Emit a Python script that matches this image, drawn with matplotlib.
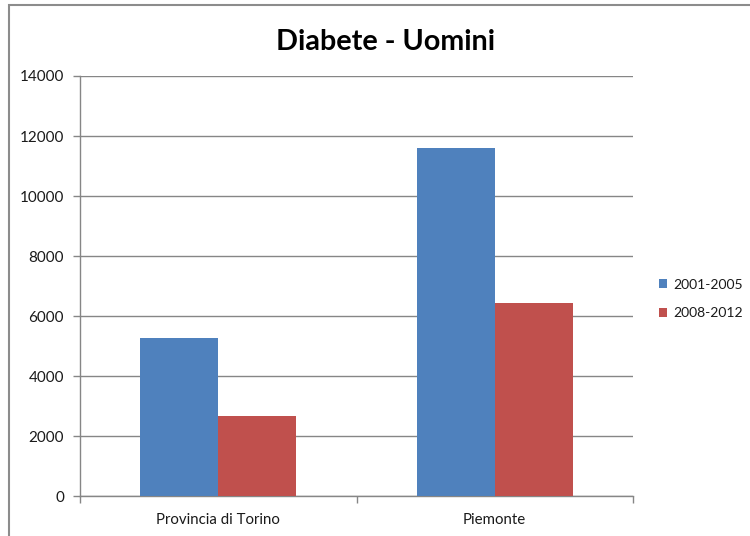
import matplotlib
matplotlib.use("Agg")
import matplotlib.pyplot as plt
import numpy as np
from matplotlib.patches import Rectangle
from matplotlib.ticker import FixedLocator

categories = ["Provincia di Torino", "Piemonte"]
series_names = ["2001-2005", "2008-2012"]
values_2001_2005 = [5260, 11600]
values_2008_2012 = [2670, 6420]
yticks = [0, 2000, 4000, 6000, 8000, 10000, 12000, 14000]

colors = ["#4F81BD", "#C0504D"]
grid_col = "#868686"
text_col = "#1a1a1a"

plt.rcParams['font.family'] = ['Lato', 'DejaVu Sans']

W, H = 750, 536
fig = plt.figure(figsize=(W / 100, H / 100), dpi=100)
fig.patch.set_facecolor("white")

# outer chart frame (cut by image edges on right/bottom)
fig.patches.append(Rectangle((9 / W, -0.05), 1.1, (H - 5) / H + 0.05,
                             transform=fig.transFigure, fill=False,
                             edgecolor="#8c8c8c", linewidth=1.5, zorder=0))

left, right, top, bottom = 80, 633, 76, 496
ax = fig.add_axes([left / W, (H - bottom) / H, (right - left) / W, (bottom - top) / H])

x = np.arange(len(categories))
bw = 0.282
ax.bar(x - bw / 2, values_2001_2005, width=bw, color=colors[0], label=series_names[0], zorder=3)
ax.bar(x + bw / 2, values_2008_2012, width=bw, color=colors[1], label=series_names[1], zorder=3)

ax.set_xlim(-0.5, len(categories) - 0.5)
ax.set_ylim(0, 14000)
ax.set_yticks(yticks)
ax.set_yticklabels([str(v) for v in yticks], fontsize=11, color=text_col)
ax.yaxis.grid(True, color=grid_col, linewidth=1, zorder=0)
ax.set_axisbelow(True)

ax.set_xticks(x)
ax.set_xticklabels(categories, fontsize=10.8, color=text_col)
ax.xaxis.set_minor_locator(FixedLocator(np.arange(-0.5, len(categories), 1.0)))
ax.tick_params(axis="x", which="major", length=0, pad=12)
ax.tick_params(axis="x", which="minor", length=5, color=grid_col, width=1)
ax.tick_params(axis="y", which="major", length=5, color=grid_col, width=1, pad=6.5)

for s in ["top", "right"]:
    ax.spines[s].set_visible(False)
for s in ["left", "bottom"]:
    ax.spines[s].set_color(grid_col)
    ax.spines[s].set_linewidth(1)

fig.text(385 / W, 1 - 49.5 / H, "Diabete - Uomini", ha="center", va="baseline",
         fontsize=20.7, fontweight="bold", color="black")

handles, labels = ax.get_legend_handles_labels()
leg = fig.legend(handles, labels, loc="center left",
                 bbox_to_anchor=(652 / W, 1 - 299 / H), frameon=False,
                 fontsize=10, handlelength=0.6, handleheight=0.6,
                 handletextpad=0.4, labelspacing=1.2, borderpad=0)
for t in leg.get_texts():
    t.set_color(text_col)

fig.savefig("out.png", dpi=100, facecolor="white")
